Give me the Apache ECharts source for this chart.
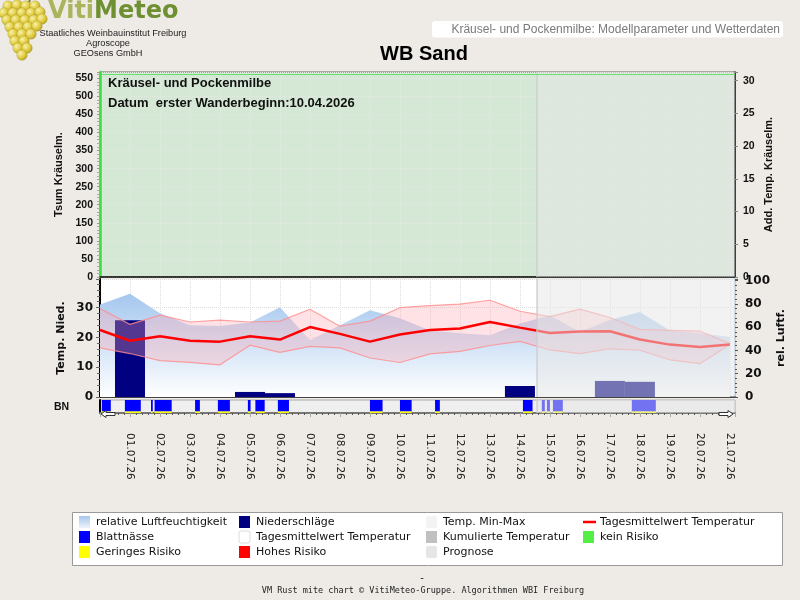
<!DOCTYPE html>
<html><head><meta charset="utf-8">
<script src="https://cdn.jsdelivr.net/npm/echarts@6/dist/echarts.min.js"></script>
<style>html,body{margin:0;padding:0;background:#eeebe6}#c{width:800px;height:600px}</style>
</head><body><div id="c"></div>
<script>
// ---------------- DATA ----------------
const dates = ['30.06.26','01.07.26','02.07.26','03.07.26','04.07.26','05.07.26','06.07.26','07.07.26','08.07.26','09.07.26','10.07.26','11.07.26','12.07.26','13.07.26','14.07.26','15.07.26','16.07.26','17.07.26','18.07.26','19.07.26','20.07.26','21.07.26'];
const humidity = [79.5, 88.6, 71.8, 61.5, 61, 64, 77, 48.7, 61.5, 74.4, 67.5, 57, 54.7, 53, 63, 70, 56, 66, 73, 57, 54.7, 51.5];
const tempMean = [22.5, 18.9, 20.4, 18.9, 18.6, 20.4, 19.3, 23.5, 21.2, 18.6, 21, 22.5, 23, 25.2, 23.3, 21.5, 22, 22.1, 19.3, 17.6, 16.8, 17.6];
const tempMax  = [29.7, 24.4, 27.5, 25.2, 25.8, 25.2, 25.5, 29.5, 23.8, 25.5, 30, 30.7, 31.2, 32.5, 28.8, 27, 29.5, 26.7, 22.7, 22.4, 22.1, 18];
const tempMin  = [16.5, 14.6, 12.2, 11.6, 10.8, 17.4, 15, 17, 16.5, 13.1, 11.6, 14.5, 15.3, 17.3, 18.7, 15.8, 14.6, 16.2, 15.7, 12.5, 11.2, 17.6];
const precipitation = [0, 25.8, 0, 0, 0, 1.7, 1.3, 0, 0, 0, 0, 0, 0, 0, 3.7, 0, 0, 5.4, 5.1, 0, 0, 0];
// leaf wetness periods [start day, end day] (day 0 = 30.06.26)
const leafWetness = [[0.06,0.36],[0.83,1.36],[1.70,1.76],[1.82,2.39],[3.17,3.33],[3.93,4.33],[4.93,5.02],[5.18,5.49],[5.93,6.30],[9.00,9.42],[10.00,10.39],[11.17,11.33],[14.10,14.42],[14.73,14.83],[14.90,15.00],[15.10,15.43],[17.73,18.53]];
const forecastStart = 14.57;
const xMax = 21.17;
const tsumMax = 567.4, addTempMax = 31.33, tempAxisMax = 39.64, humAxisMax = 101.3;

// ---------------- STYLE ----------------
const AR = 'Liberation Sans, Arial, sans-serif';
const DV = 'DejaVu Sans, Verdana, sans-serif';
const L = 100, W = 635;
const every = s => v => (Math.abs(v / s - Math.round(v / s)) < 1e-6 ? String(Math.round(v)) : '');
const dateFmt = v => { const i = Math.round(v); return (Math.abs(v - i) < 1e-6 && i >= 1 && i < dates.length) ? dates[i] : ''; };

const chart = echarts.init(document.getElementById('c'), null, {renderer: 'canvas'});

function overlay(xi, yi) {
  return {
    type: 'custom', xAxisIndex: xi, yAxisIndex: yi, z: 10, silent: true,
    data: [[forecastStart]],
    renderItem(params, api) {
      const cs = params.coordSys;
      const x0 = api.coord([api.value(0), 0])[0];
      return {type: 'group', children: [
        {type: 'rect', shape: {x: x0, y: cs.y, width: cs.x + cs.width - x0, height: cs.height}, style: {fill: 'rgba(230,230,230,0.5)'}},
        {type: 'line', shape: {x1: x0, y1: cs.y, x2: x0, y2: cs.y + cs.height}, style: {stroke: 'rgba(205,205,205,0.9)', lineWidth: 1.5}}
      ]};
    }
  };
}

const valX = (gi, extra) => Object.assign({
  type: 'value', gridIndex: gi, min: 0, max: xMax, interval: 1,
  axisLabel: {show: false}, axisTick: {show: false},
  splitLine: {show: false}
}, extra);

// decorative logo grapes
const grapes = [{type: 'line', shape: {x1: 30, y1: 0, x2: 27, y2: 6}, style: {stroke: '#7a7a30', lineWidth: 2}}];
const gpos = [[8,6],[17,5],[26,6],[35,6],[4,13],[13,13],[22,13],[31,13],[40,12],[7,20],[16,20],[25,20],[34,20],[42,19],[10,27],[19,27],[28,27],[37,26],[13,34],[22,34],[31,34],[15,41],[24,41],[18,48],[27,48],[22,55]];
gpos.forEach(p => grapes.push({type: 'circle', shape: {cx: p[0], cy: p[1], r: 5.3},
  style: {fill: new echarts.graphic.RadialGradient(0.35, 0.35, 0.75, [{offset: 0, color: '#f8f0a8'}, {offset: 0.5, color: '#e2cf45'}, {offset: 1, color: '#b09a22'}]), stroke: 'rgba(140,120,30,0.45)', lineWidth: 0.5}}));

const legendItems = [
  {x: 79, y: 522, t: 'relative Luftfeuchtigkeit', icon: 'grad'},
  {x: 79, y: 537, t: 'Blattnässe', icon: '#0000ff'},
  {x: 79, y: 552, t: 'Geringes Risiko', icon: '#ffff00'},
  {x: 239, y: 522, t: 'Niederschläge', icon: '#000080'},
  {x: 239, y: 537, t: 'Tagesmittelwert Temperatur', icon: '#ffffff'},
  {x: 239, y: 552, t: 'Hohes Risiko', icon: '#ff0000'},
  {x: 426, y: 522, t: 'Temp. Min-Max', icon: '#f3f3f3'},
  {x: 426, y: 537, t: 'Kumulierte Temperatur', icon: '#c0c0c0'},
  {x: 426, y: 552, t: 'Prognose', icon: '#e6e6e6'},
  {x: 583, y: 522, t: 'Tagesmittelwert Temperatur', icon: 'line'},
  {x: 583, y: 537, t: 'kein Risiko', icon: '#55ee44'}
];
const legendGraphics = [{type: 'rect', shape: {x: 72.5, y: 512.5, width: 710, height: 53}, style: {fill: '#ffffff', stroke: '#999', lineWidth: 1}}];
legendItems.forEach(it => {
  if (it.icon === 'line') {
    legendGraphics.push({type: 'line', shape: {x1: it.x, y1: it.y, x2: it.x + 13, y2: it.y}, style: {stroke: '#ff0000', lineWidth: 2.5}});
  } else {
    const fill = it.icon === 'grad'
      ? new echarts.graphic.LinearGradient(0, 0, 0, 1, [{offset: 0, color: '#a6c6ee'}, {offset: 1, color: '#eef4fc'}])
      : it.icon;
    legendGraphics.push({type: 'rect', shape: {x: it.x, y: it.y - 6, width: 11, height: 12, r: (it.icon === '#ffffff' || it.icon === '#f3f3f3' || it.icon === '#e6e6e6') ? 2 : 0},
      style: {fill: fill, stroke: it.icon === '#ffffff' ? '#dcdcdc' : null, lineWidth: 1}});
  }
  legendGraphics.push({type: 'text', x: it.x + 17, y: it.y, style: {text: it.t, font: '11px ' + DV, fill: '#111', textVerticalAlign: 'middle'}});
});

const option = {
  backgroundColor: '#eeebe6',
  animation: false,
  grid: [
    {left: L, top: 72, width: W, height: 205, show: true, backgroundColor: '#d5e8d5', borderColor: '#666', borderWidth: 1, outerBoundsMode: 'none', containLabel: false},
    {left: L, top: 279, width: W, height: 118, show: true, backgroundColor: '#ffffff', borderWidth: 0, outerBoundsMode: 'none', containLabel: false},
    {left: L, top: 400, width: W, height: 13, show: true, backgroundColor: '#efefef', borderColor: '#aaa', borderWidth: 1, outerBoundsMode: 'none', containLabel: false}
  ],
  xAxis: [
    valX(0, {axisLine: {show: true, lineStyle: {color: '#111', width: 1.5}}, splitLine: {show: true, lineStyle: {color: '#e2ebe2', type: 'dotted'}}}),
    valX(1, {axisLine: {show: true, lineStyle: {color: '#111', width: 1.5}}, splitLine: {show: true, lineStyle: {color: '#dedede', type: 'dotted'}}}),
    valX(2, {
      axisLine: {show: true, onZero: false, lineStyle: {color: '#777', width: 2}},
      axisTick: {show: true, length: 4, lineStyle: {color: '#aaa'}},
      minorTick: {show: true, splitNumber: 5, length: 2, lineStyle: {color: '#555'}},
      axisLabel: {show: true, rotate: -90, margin: 20, formatter: dateFmt, color: '#222', fontFamily: DV, fontSize: 10.5, hideOverlap: false}
    })
  ],
  yAxis: [
    {type: 'value', gridIndex: 0, position: 'left', min: 0, max: tsumMax, interval: 50,
      axisLine: {show: true, lineStyle: {color: '#3fdc3f', width: 2.5}},
      axisTick: {show: true, length: 3, lineStyle: {color: '#999'}},
      minorTick: {show: true, splitNumber: 5, length: 3, lineStyle: {color: '#aaa'}},
      axisLabel: {formatter: every(50), margin: 7, color: '#111', fontFamily: AR, fontWeight: 'bold', fontSize: 10.5},
      splitLine: {show: true, lineStyle: {color: '#e2ebe2', type: 'dotted'}},
      name: 'Tsum Kräuselm.', nameLocation: 'middle', nameRotate: 90, nameGap: 36, nameMoveOverlap: false,
      nameTextStyle: {fontFamily: AR, fontWeight: 'bold', fontSize: 11, color: '#111'}},
    {type: 'value', gridIndex: 0, position: 'right', min: 0, max: addTempMax, interval: 5,
      axisLine: {show: true, lineStyle: {color: '#111', width: 1.5}},
      axisTick: {show: true, length: 3, lineStyle: {color: '#888'}},
      axisLabel: {formatter: every(5), margin: 8, color: '#111', fontFamily: AR, fontWeight: 'bold', fontSize: 10.5},
      splitLine: {show: false},
      name: 'Add. Temp. Kräuselm.', nameLocation: 'middle', nameRotate: 90, nameGap: 28, nameMoveOverlap: false,
      nameTextStyle: {fontFamily: AR, fontWeight: 'bold', fontSize: 11, color: '#111'}},
    {type: 'value', gridIndex: 1, position: 'left', min: 0, max: tempAxisMax, interval: 10,
      axisLine: {show: true, lineStyle: {color: '#000', width: 2}},
      axisTick: {show: true, length: 4, lineStyle: {color: '#666'}},
      minorTick: {show: true, splitNumber: 5, length: 3, lineStyle: {color: '#666'}},
      axisLabel: {formatter: every(10), margin: 7, color: '#111', fontFamily: DV, fontWeight: 'bold', fontSize: 12},
      splitLine: {show: true, lineStyle: {color: '#dcdcdc', type: 'dotted'}},
      name: 'Temp. Nied.', nameLocation: 'middle', nameRotate: 90, nameGap: 33, nameMoveOverlap: false,
      nameTextStyle: {fontFamily: DV, fontWeight: 'bold', fontSize: 11, color: '#111'}},
    {type: 'value', gridIndex: 1, position: 'right', min: 0, max: humAxisMax, interval: 20,
      axisLine: {show: true, lineStyle: {color: '#a8c4e4', width: 1.5}},
      axisTick: {show: true, length: 3, lineStyle: {color: '#555'}},
      minorTick: {show: true, splitNumber: 5, length: 2, lineStyle: {color: '#555'}},
      axisLabel: {formatter: every(20), margin: 10, color: '#111', fontFamily: DV, fontWeight: 'bold', fontSize: 12},
      splitLine: {show: false},
      name: 'rel. Luftf.', nameLocation: 'middle', nameRotate: 90, nameGap: 41, nameMoveOverlap: false,
      nameTextStyle: {fontFamily: DV, fontWeight: 'bold', fontSize: 11, color: '#111'}},
    {type: 'value', gridIndex: 2, min: 0, max: 1, axisLine: {show: true, lineStyle: {color: '#000', width: 2}},
      axisTick: {show: false}, axisLabel: {show: false}, splitLine: {show: false}}
  ],
  series: [
    overlay(0, 0),
    {type: 'line', name: 'rel. Luftfeuchtigkeit', xAxisIndex: 1, yAxisIndex: 3, z: 1, symbol: 'none', silent: true,
      data: humidity.map((v, i) => [i, v]), lineStyle: {width: 0},
      areaStyle: {opacity: 1, color: new echarts.graphic.LinearGradient(0, 279, 0, 397, [{offset: 0, color: '#98bfec'}, {offset: 1, color: '#ffffff'}], true)}},
    {type: 'bar', name: 'Niederschläge', xAxisIndex: 1, yAxisIndex: 2, z: 2, barWidth: 30, silent: true,
      data: precipitation.map((v, i) => [i, v]), itemStyle: {color: '#000080'}},
    {type: 'custom', name: 'Temp. Min-Max', xAxisIndex: 1, yAxisIndex: 2, z: 3, silent: true,
      data: tempMax.map((v, i) => [i, tempMin[i], v]),
      renderItem(params, api) {
        if (params.dataIndex !== 0) return null;
        const up = tempMax.map((v, i) => api.coord([i, v]));
        const lo = tempMin.map((v, i) => api.coord([i, v])).reverse();
        return {type: 'polygon', shape: {points: up.concat(lo)}, style: {fill: 'rgba(255,168,175,0.33)'}};
      }},
    {type: 'line', name: 'Tmax', xAxisIndex: 1, yAxisIndex: 2, z: 4, symbol: 'none', silent: true,
      data: tempMax.map((v, i) => [i, v]), lineStyle: {color: 'rgba(255,140,140,0.8)', width: 1.2}},
    {type: 'line', name: 'Tmin', xAxisIndex: 1, yAxisIndex: 2, z: 4, symbol: 'none', silent: true,
      data: tempMin.map((v, i) => [i, v]), lineStyle: {color: 'rgba(255,140,140,0.8)', width: 1.2}},
    {type: 'line', name: 'Tagesmittelwert Temperatur', xAxisIndex: 1, yAxisIndex: 2, z: 5, symbol: 'none', silent: true,
      data: tempMean.map((v, i) => [i, v]), lineStyle: {color: '#ff0000', width: 2.5}},
    overlay(1, 2),
    {type: 'custom', name: 'Blattnässe', xAxisIndex: 2, yAxisIndex: 4, z: 3, silent: true,
      data: leafWetness,
      renderItem(params, api) {
        const s = api.coord([api.value(0), 1]);
        const e = api.coord([api.value(1), 0]);
        return {type: 'group', children: [
          {type: 'rect', shape: {x: s[0], y: s[1], width: e[0] - s[0], height: e[1] - s[1] - 1.5}, style: {fill: '#0000ff'}},
          {type: 'rect', shape: {x: s[0], y: e[1] - 1.5, width: e[0] - s[0], height: 1.5}, style: {fill: '#ffff00'}}
        ]};
      }},
    overlay(2, 4)
  ],
  graphic: [
    {type: 'group', children: grapes},
    {type: 'text', x: 48, y: 0, style: {text: '{a|Viti}{b|Meteo}', rich: {
      a: {font: 'bold 24px ' + DV, fill: '#a9b45c', textStroke: '#8a963e', lineWidth: 0.5},
      b: {font: 'bold 24px ' + DV, fill: '#6e9032', textStroke: '#5a7a22', lineWidth: 0.5}}}},
    {type: 'text', x: 113, y: 33, style: {text: 'Staatliches Weinbauinstitut Freiburg', font: '9.2px ' + AR, fill: '#222', textAlign: 'center', textVerticalAlign: 'middle'}},
    {type: 'text', x: 108, y: 43.5, style: {text: 'Agroscope', font: '9.2px ' + AR, fill: '#222', textAlign: 'center', textVerticalAlign: 'middle'}},
    {type: 'text', x: 108, y: 53.5, style: {text: 'GEOsens GmbH', font: '9.2px ' + AR, fill: '#222', textAlign: 'center', textVerticalAlign: 'middle'}},
    {type: 'rect', shape: {x: 432, y: 21, width: 351, height: 16.5, r: 3}, style: {fill: '#ffffff'}},
    {type: 'text', x: 780, y: 29.5, style: {text: 'Kräusel- und Pockenmilbe: Modellparameter und Wetterdaten', font: '12px ' + AR, fill: '#7a7a7a', textAlign: 'right', textVerticalAlign: 'middle'}},
    {type: 'text', x: 424, y: 54, style: {text: 'WB Sand', font: 'bold 20px ' + AR, fill: '#000', textAlign: 'center', textVerticalAlign: 'middle'}},
    {type: 'line', z: 50, shape: {x1: 101, y1: 74.5, x2: 735, y2: 74.5}, style: {stroke: '#6be06b', lineWidth: 1.2}},
    {type: 'text', z: 50, x: 108, y: 83, style: {text: 'Kräusel- und Pockenmilbe', font: 'bold 13px ' + AR, fill: '#111', textVerticalAlign: 'middle'}},
    {type: 'text', z: 50, x: 108, y: 103, style: {text: 'Datum  erster Wanderbeginn:10.04.2026', font: 'bold 13px ' + AR, fill: '#111', textVerticalAlign: 'middle'}},
    {type: 'text', x: 54, y: 407, style: {text: 'BN', font: 'bold 10.5px ' + AR, fill: '#111', textVerticalAlign: 'middle'}},
    {type: 'polygon', z: 50, shape: {points: [[101, 414], [106, 410.5], [106, 412.5], [115, 412.5], [115, 415.5], [106, 415.5], [106, 417.5]]}, style: {fill: '#fff', stroke: '#333', lineWidth: 1}},
    {type: 'polygon', z: 50, shape: {points: [[733, 414], [728, 410.5], [728, 412.5], [719, 412.5], [719, 415.5], [728, 415.5], [728, 417.5]]}, style: {fill: '#fff', stroke: '#333', lineWidth: 1}},
    ...legendGraphics,
    {type: 'text', x: 422, y: 578, style: {text: '-', font: '10px ' + DV, fill: '#222', textAlign: 'center', textVerticalAlign: 'middle'}},
    {type: 'text', x: 423, y: 591, style: {text: 'VM Rust mite chart © VitiMeteo-Gruppe. Algorithmen WBI Freiburg', font: '8.5px DejaVu Sans Mono, monospace', fill: '#222', textAlign: 'center', textVerticalAlign: 'middle'}}
  ]
};
chart.setOption(option);
</script>
</body></html>
